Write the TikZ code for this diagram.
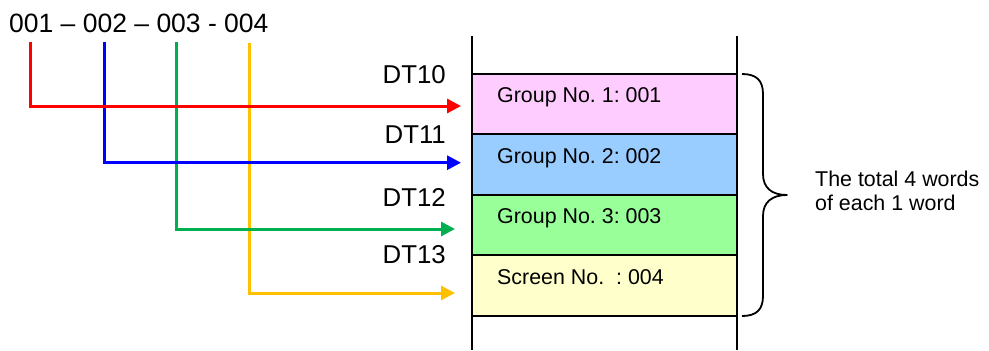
\documentclass[tikz,border=0pt]{standalone}
\usepackage{fontspec}
\setmainfont{Liberation Sans}
\frenchspacing
\usetikzlibrary{arrows.meta}
\definecolor{cRed}{RGB}{255,0,0}
\definecolor{cBlue}{RGB}{0,0,255}
\definecolor{cGreen}{RGB}{0,176,80}
\definecolor{cYel}{RGB}{255,192,0}
\definecolor{fPink}{RGB}{255,204,255}
\definecolor{fBlue}{RGB}{153,204,255}
\definecolor{fGreen}{RGB}{153,255,153}
\definecolor{fYel}{RGB}{255,255,204}
\begin{document}
\begin{tikzpicture}[x=1bp,y=-1bp,
  cell/.style={draw=black, line width=2bp, minimum width=265bp, minimum height=60.6bp, anchor=north west, inner sep=0pt, outer sep=0pt},
  celltxt/.style={anchor=base west, inner sep=0pt, font=\fontsize{21.4bp}{24.7bp}\selectfont},
  dtlbl/.style={anchor=base east, inner sep=0pt, font=\fontsize{25.8bp}{28bp}\selectfont},
  conn/.style={line width=3bp, -{Triangle[length=14bp,width=14bp]}},
  rail/.style={line width=2bp}
]
\useasboundingbox (0,0) rectangle (989,350);
% rails
\coordinate (r1t) at (472,36); \coordinate (r1b) at (472,350);
\coordinate (r2t) at (737,36); \coordinate (r2b) at (737,350);
% cells
\node[cell, fill=fPink]  (b1) at (472,73.5) {};
\node[cell, fill=fBlue]  (b2) at (472,134.1) {};
\node[cell, fill=fGreen] (b3) at (472,194.7) {};
\node[cell, fill=fYel]   (b4) at (472,255.3) {};
\draw[rail] (r1t) -- (r1b);
\draw[rail] (r2t) -- (r2b);
% cell texts
\node[celltxt] (t1) at (497,102.5) {Group No. 1: 001};
\node[celltxt] (t2) at (497,163) {Group No. 2: 002};
\node[celltxt] (t3) at (497,223.5) {Group No. 3: 003};
\node[celltxt] (t4) at (497,284.3) {Screen No.\ \ : 004};
% DT labels
\node[dtlbl] (d1) at (446,83) {DT10};
\node[dtlbl] (d2) at (446,143) {DT11};
\node[dtlbl] (d3) at (446,206) {DT12};
\node[dtlbl] (d4) at (446,263) {DT13};
% top label
\node[anchor=base west, inner sep=0pt, font=\fontsize{26.5bp}{28bp}\selectfont] (lbl) at (9,32.3) {001 – 002 – 003 - 004};
% connectors
\coordinate (s1) at (30,42);  \coordinate (e1) at (461,106);
\coordinate (s2) at (104,42); \coordinate (e2) at (461,162.7);
\coordinate (s3) at (176,42); \coordinate (e3) at (455,229);
\coordinate (s4) at (249,43); \coordinate (e4) at (455,293);
\draw[conn, cYel]  (s4) |- (e4);
\draw[conn, cGreen] (s3) |- (e3);
\draw[conn, cBlue] (s2) |- (e2);
\draw[conn, cRed]  (s1) |- (e1);
% brace
\draw[line width=1.8bp, line join=round]
  (742,74) .. controls (756,74) and (763,80) .. (763,94)
  -- (763,174) .. controls (763,188) and (772,195) .. (787,195)
  .. controls (772,195) and (763,202) .. (763,216)
  -- (763,296) .. controls (763,310) and (756,316) .. (742,316);
% right text
\node[celltxt] (n1) at (815,186) {The total 4 words};
\node[celltxt] (n2) at (815,210.7) {of each 1 word};
\end{tikzpicture}
\end{document}
